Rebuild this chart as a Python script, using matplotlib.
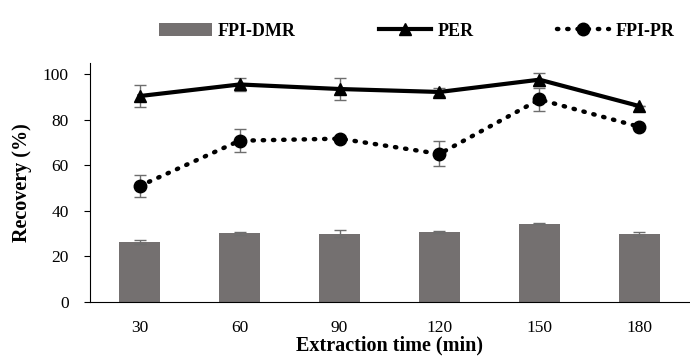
import matplotlib
matplotlib.use("Agg")
import matplotlib.pyplot as plt
import numpy as np

categories = ["30", "60", "90", "120", "150", "180"]
dmr = [26.4, 30.2, 30.0, 30.6, 34.3, 29.8]
dmr_err = [1.0, 0.7, 1.5, 0.5, 0.3, 0.8]
per = [90.4, 95.5, 93.5, 92.2, 97.6, 86.0]
per_err = [4.7, 3.0, 5.0, 1.8, 2.8, 0.0]
pr = [50.9, 70.8, 71.7, 65.0, 88.9, 76.9]
pr_err = [5.0, 5.0, 0.0, 5.5, 5.0, 0.0]

plt.rcParams['font.family'] = ['Liberation Serif', 'DejaVu Serif']

fig = plt.figure(figsize=(6.9, 3.59), dpi=100)
ax = fig.add_axes([0.130, 0.159, 0.869, 0.666])
x = np.arange(len(categories))
ecol = '#6e6e6e'
b = ax.bar(x, dmr, width=0.41, color='#747070', label='FPI-DMR', zorder=2)
ax.errorbar(x, dmr, yerr=dmr_err, fmt='none', ecolor=ecol, capsize=4, elinewidth=1, capthick=1, zorder=3)
ax.errorbar(x, per, yerr=per_err, fmt='none', ecolor=ecol, capsize=4, elinewidth=1, capthick=1, zorder=3)
ax.errorbar(x, pr, yerr=pr_err, fmt='none', ecolor=ecol, capsize=4, elinewidth=1, capthick=1, zorder=3)
l1, = ax.plot(x, per, color='black', lw=3, marker='^', ms=8.5, label='PER', zorder=4)
l2, = ax.plot(x, pr, color='black', lw=3.2, ls=(0, (0.3, 2.0)), dash_capstyle='round',
              marker='o', ms=9, label='FPI-PR', zorder=4)

ax.set_xlim(-0.5, 5.5)
ax.set_ylim(0, 105)
ax.set_yticks([0, 20, 40, 60, 80, 100])
ax.set_xticks(x)
ax.set_xticklabels(categories)
ax.tick_params(axis='x', length=0, pad=13, labelsize=12.5)
ax.tick_params(axis='y', length=4, labelsize=12.5, direction='out', pad=11)
for s in ['top', 'right']:
    ax.spines[s].set_visible(False)
ax.spines['left'].set_color('black')
ax.spines['bottom'].set_color('black')
ax.set_ylabel('Recovery (%)', fontsize=14.5, fontweight='bold', labelpad=8)
ax.set_xlabel('Extraction time (min)', fontsize=14.5, fontweight='bold', labelpad=0)

leg = fig.legend(handles=[b, l1, l2], labels=['FPI-DMR', 'PER', 'FPI-PR'],
                 loc='center', bbox_to_anchor=(0.604, 0.913), ncol=3, frameon=False,
                 handlelength=2.9, columnspacing=4.6, handletextpad=0.35,
                 prop={'weight': 'bold', 'size': 13})
fig.savefig('out.png', dpi=100)
